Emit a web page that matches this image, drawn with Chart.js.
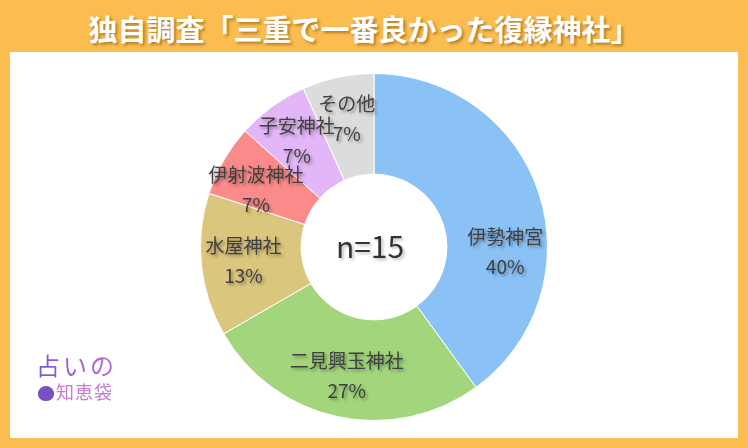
<!DOCTYPE html>
<html lang="ja">
<head>
<meta charset="utf-8">
<script src="https://cdn.jsdelivr.net/npm/chart.js@4.4.0/dist/chart.umd.min.js"></script>
<style>
  html, body { margin: 0; padding: 0; }
  body { width: 748px; height: 448px; background: #fbbd4f; position: relative; overflow: hidden;
         font-family: "Noto Sans CJK JP", "Noto Sans", sans-serif; }
  #title { position: absolute; left: 0; top: 0; width: 748px; height: 52px; line-height: 56px;
           text-align: center; color: #fff; font-size: 29px; font-weight: bold;
           text-shadow: 2px 2px 3px rgba(120, 70, 0, 0.55); padding-right: 20px; box-sizing: border-box; }
  #panel { position: absolute; left: 10px; top: 52px; width: 728px; height: 386px; background: #fff; }
  #logo { position: absolute; left: 36px; top: 350px; font-family: "Noto Sans CJK JP", sans-serif; line-height: 1.25; }
  #logo .a { font-size: 24px; letter-spacing: 3px;
             background: linear-gradient(90deg, #7a55d8, #c36ad8); -webkit-background-clip: text; color: transparent; }
  #logo .b { font-size: 18px; margin-left: 2px; letter-spacing: 1px; color: #c97ad6; }
  #logo .bag { display: inline-block; width: 16px; height: 15px; border-radius: 50% 50% 45% 45%;
               background: #7b4fc4; vertical-align: -2px; margin-right: 2px; }
</style>
</head>
<body>
<div id="title">独自調査「三重で一番良かった復縁神社」</div>
<div id="panel"><canvas id="chart" width="728" height="386"></canvas></div>
<div id="logo">
  <div class="a">占いの</div>
  <div class="b"><span class="bag"></span>知恵袋</div>
</div>
<script>
// Survey data (n=15)
const shrines = ['伊勢神宮', '二見興玉神社', '水屋神社', '伊射波神社', '子安神社', 'その他'];
const votes = [6, 4, 2, 1, 1, 1];
const sliceColors = ['#8bc2f6', '#a2d57c', '#dbc67e', '#fb8b8a', '#e3b6f7', '#dcdcdc'];
const centerText = 'n=15';

// Draw name + percent inside each slice, and n= in the hole
const sliceLabels = {
    id: 'sliceLabels',
    afterDatasetsDraw(chart, args, opts) {
        const ctx = chart.ctx;
        const meta = chart.getDatasetMeta(0);
        const data = chart.data.datasets[0].data;
        const total = data.reduce((s, v) => s + v, 0);
        ctx.save();
        ctx.textAlign = 'center';
        ctx.textBaseline = 'middle';
        ctx.font = '19px "Noto Sans CJK JP", sans-serif';
        meta.data.forEach((arc, i) => {
            const p = arc.getProps(['x', 'y', 'startAngle', 'endAngle', 'innerRadius', 'outerRadius'], true);
            const shift = (opts.angleShift[i] || 0) * Math.PI / 180;
            const mid = (p.startAngle + p.endAngle) / 2 + shift;
            const r = p.innerRadius + (p.outerRadius - p.innerRadius) * 0.58;
            const x = p.x + Math.cos(mid) * r;
            const y = p.y + Math.sin(mid) * r;
            const pct = Math.round(data[i] / total * 100) + '%';
            ctx.shadowColor = 'rgba(0,0,0,0.35)';
            ctx.shadowBlur = 3;
            ctx.shadowOffsetX = 2;
            ctx.shadowOffsetY = 2;
            ctx.fillStyle = '#404040';
            ctx.fillText(chart.data.labels[i], x, y - 15);
            ctx.fillText(pct, x, y + 15);
        });
        // center
        const c = meta.data[0];
        ctx.font = '30px "Noto Sans CJK JP", sans-serif';
        ctx.shadowColor = 'rgba(0,0,0,0.25)';
        ctx.fillStyle = '#333';
        ctx.fillText(centerText, c.x - 4, c.y);
        ctx.restore();
    }
};

const chart = new Chart(document.getElementById('chart'), {
    type: 'doughnut',
    data: {
        labels: shrines,
        datasets: [{
            data: votes,
            backgroundColor: sliceColors,
            borderColor: '#ffffff',
            borderWidth: 1
        }]
    },
    options: {
        responsive: false,
        animation: false,
        cutout: '42%',
        layout: { padding: { top: 21, bottom: 17 } },
        plugins: {
            legend: { display: false },
            tooltip: { enabled: false },
            sliceLabels: { angleShift: { 0: 20, 3: -4 } }
        }
    },
    plugins: [sliceLabels]
});
</script>
</body>
</html>
